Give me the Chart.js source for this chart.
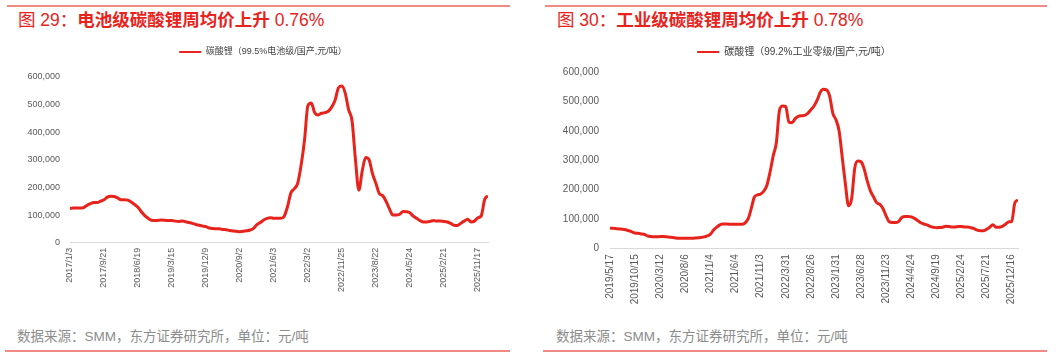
<!DOCTYPE html>
<html>
<head>
<meta charset="utf-8">
<script src="https://cdn.jsdelivr.net/npm/chart.js@4/dist/chart.umd.min.js"></script>
<style>
  html, body { margin: 0; padding: 0; background: #fff; }
  body { width: 1061px; height: 358px; position: relative; overflow: hidden;
         font-family: "Liberation Sans", "Noto Sans CJK SC", sans-serif; }
  .rule { position: absolute; height: 2px; background: #f08a84; }
  .title { position: absolute; top: 10px; font-size: 17.5px; line-height: 20px; color: #e8231c; white-space: nowrap; }
  .title b { font-weight: bold; }
  .foot { position: absolute; top: 327px; font-size: 13.5px; line-height: 20px; color: #8c8c8c; white-space: nowrap; }
  .box { position: absolute; top: 0; height: 320px; }
</style>
</head>
<body>
<div class="rule" style="left:7px; width:503px; top:5px;"></div>
<div class="rule" style="left:545px; width:502px; top:5px;"></div>
<div class="title" style="left:18px;">图 29：<b>电池级碳酸锂周均价上升</b> 0.76%</div>
<div class="title" style="left:557px;">图 30：<b>工业级碳酸锂周均价上升</b> 0.78%</div>
<div class="box" style="left:0; width:530px;"><canvas id="c1" width="530" height="320"></canvas></div>
<div class="box" style="left:530px; width:531px;"><canvas id="c2" width="531" height="320"></canvas></div>
<div class="foot" style="left:17px;">数据来源：SMM，东方证券研究所，单位：元/吨</div>
<div class="foot" style="left:556px;">数据来源：SMM，东方证券研究所，单位：元/吨</div>
<div class="rule" style="left:5px; width:505px; top:350px;"></div>
<div class="rule" style="left:543px; width:504px; top:350px;"></div>

<script>
// ---- Data ----
const leftName = "碳酸锂（99.5%电池级/国产,元/吨）";
const leftTickLabels = ["2017/1/3","2017/9/21","2018/6/19","2019/3/15","2019/12/9","2020/9/2","2021/6/3","2022/3/2","2022/11/25","2023/8/22","2024/5/24","2025/2/21","2025/11/17"];
const leftValues = [
  124000,125000,125000,125000,127000,135000,141000,145000,145000,150000,
  155000,165000,168000,167000,162000,155000,155000,154000,147000,138000,
  128000,112000,98000,88000,81000,80000,81000,82000,81000,80000,
  80000,78000,77000,78000,76000,73000,70000,66000,63000,60000,
  58000,53000,51000,50000,50000,48000,47000,44000,42000,41000,
  40000,41000,43000,46000,52000,65000,73000,82000,88000,90000,
  88000,88000,88000,95000,130000,180000,195000,215000,280000,370000,
  495000,505000,470000,462000,468000,470000,475000,490000,515000,560000,
  566000,540000,480000,440000,300000,190000,260000,308000,300000,250000,
  215000,178000,170000,150000,122000,100000,100000,103000,113000,112000,
  108000,96000,88000,80000,75000,75000,77000,80000,78000,78000,
  77000,75000,70000,63000,62000,70000,78000,85000,75000,78000,
  90000,97000,155000,170000
];

const rightName = "碳酸锂（99.2%工业零级/国产,元/吨）";
const rightTickLabels = ["2019/5/17","2019/10/15","2020/3/12","2020/8/6","2021/1/4","2021/6/4","2021/11/3","2022/3/31","2022/8/26","2023/1/31","2023/6/28","2023/11/23","2024/4/24","2024/9/19","2025/2/24","2025/7/21","2025/12/16"];
const rightValues = [
  68000,68000,67000,66000,65000,63000,60000,56000,52000,51000,
  49000,47000,42000,40000,39000,39000,40000,40000,39000,38000,
  37000,35000,34000,34000,34000,34000,34000,35000,36000,37000,
  39000,42000,48000,62000,72000,80000,83000,83000,82000,82000,
  82000,82000,82000,86000,100000,135000,175000,182000,185000,195000,
  215000,260000,315000,360000,470000,485000,483000,430000,428000,442000,
  450000,452000,453000,460000,472000,485000,505000,532000,542000,540000,
  518000,460000,438000,400000,310000,220000,145000,170000,275000,298000,
  295000,270000,228000,195000,175000,155000,150000,135000,110000,90000,
  88000,88000,92000,105000,108000,108000,107000,102000,95000,87000,
  83000,80000,75000,72000,70000,71000,72000,75000,74000,73000,
  73000,74000,74000,73000,73000,70000,67000,62000,60000,60000,
  65000,72000,80000,72000,72000,75000,82000,90000,92000,155000,
  165000
];

const RED = "#e8231c";
const FONT_FAMILY = '"Liberation Sans", "Noto Sans CJK SC", sans-serif';

function makeChart(id, cfg) {
  const extraGap = cfg.legendGap;
  const shift = cfg.legendShift;
  const gapPlugin = {
    id: 'legendGap',
    beforeInit(chart) {
      const lg = chart.legend;
      if (lg && !lg._gapPatched) {
        const orig = lg.fit;
        lg.fit = function () { orig.call(this); this.height += extraGap; };
        lg._gapPatched = true;
      }
    },
    afterLayout(chart) {
      const lg = chart.legend;
      if (lg) { lg.left += shift; lg.right += shift; }
    }
  };
  const step = cfg.tickStep;
  return new Chart(document.getElementById(id), {
    type: 'line',
    data: {
      datasets: [{
        label: cfg.name,
        data: cfg.values.map((v, i) => ({ x: i, y: v })),
        borderColor: RED,
        backgroundColor: RED,
        borderWidth: 3,
        pointRadius: 0,
        pointHoverRadius: 0,
        cubicInterpolationMode: 'monotone',
        fill: false
      }]
    },
    options: {
      responsive: false,
      animation: false,
      events: [],
      layout: { padding: { top: cfg.padTop, left: 0, right: cfg.padRight, bottom: 0 } },
      plugins: {
        tooltip: { enabled: false },
        legend: {
          display: true,
          position: 'top',
          labels: {
            boxWidth: 22,
            boxHeight: 2,
            padding: 10,
            color: '#404040',
            font: { size: cfg.legendFont, family: FONT_FAMILY },
            generateLabels(chart) {
              const items = Chart.defaults.plugins.legend.labels.generateLabels(chart);
              items.forEach(it => { it.lineWidth = 0; it.fillStyle = RED; });
              return items;
            }
          }
        }
      },
      scales: {
        x: {
          type: 'linear',
          min: 0,
          max: cfg.values.length - 1,
          offset: false,
          grid: { display: false, drawTicks: false },
          border: { display: true, color: '#d9d9d9', width: 1 },
          ticks: {
            stepSize: step,
            includeBounds: false,
            autoSkip: false,
            minRotation: 90,
            maxRotation: 90,
            padding: cfg.xTickPad,
            color: '#595959',
            font: { size: cfg.tickFont, family: FONT_FAMILY },
            callback: (v) => (v % step === 0 && cfg.tickLabels[v / step] !== undefined) ? cfg.tickLabels[v / step] : ''
          },
          afterFit(scale) { scale.height = cfg.xHeight; }
        },
        y: {
          min: 0,
          max: 600000,
          grid: { display: false, drawTicks: false },
          border: { display: false },
          ticks: {
            stepSize: 100000,
            padding: cfg.yTickPad,
            color: '#595959',
            font: { size: cfg.tickFont, family: FONT_FAMILY },
            callback: (v) => v.toLocaleString('en-US')
          },
          afterFit(scale) { scale.width = cfg.yWidth; }
        }
      }
    },
    plugins: [gapPlugin]
  });
}

makeChart('c1', {
  name: leftName, values: leftValues, tickLabels: leftTickLabels, tickStep: 10,
  padTop: 37.5, padRight: 42, legendGap: 10.2, legendShift: 19, legendFont: 9, tickFont: 9,
  xHeight: 320 - 242.7, yWidth: 70, yTickPad: 10, xTickPad: 5
});
makeChart('c2', {
  name: rightName, values: rightValues, tickLabels: rightTickLabels, tickStep: 8,
  padTop: 37, padRight: 43, legendGap: 5.3, legendShift: 20, legendFont: 10, tickFont: 10,
  xHeight: 320 - 248.3, yWidth: 80, yTickPad: 11, xTickPad: 6
});
</script>
</body>
</html>
